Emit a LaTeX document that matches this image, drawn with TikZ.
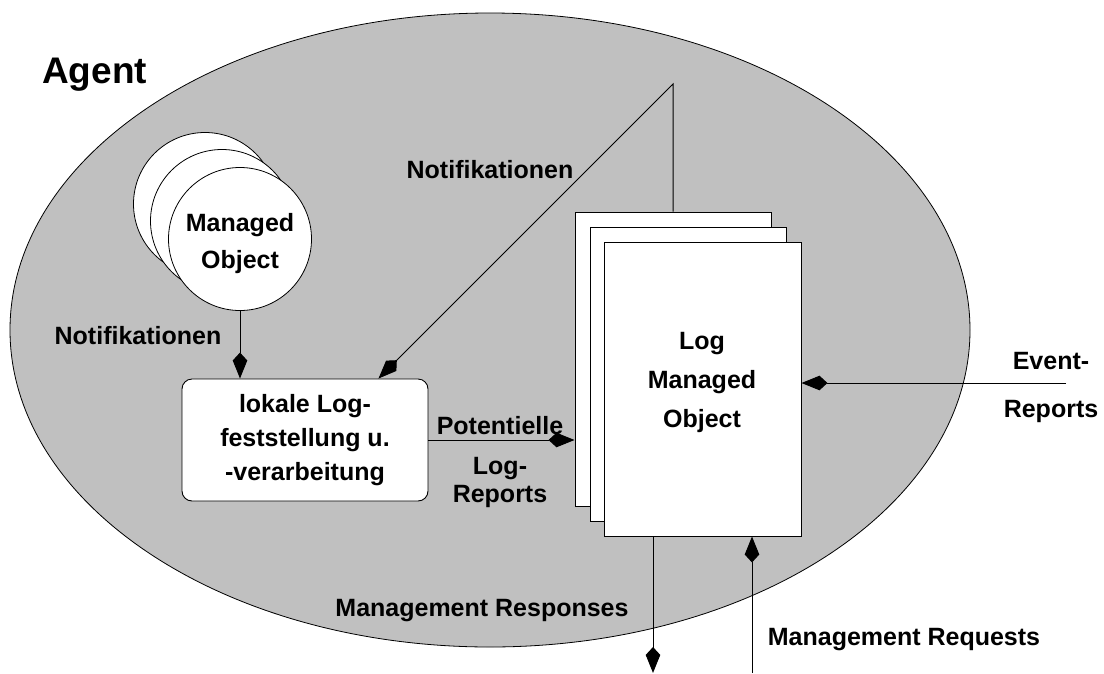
\documentclass[tikz,border=0pt]{standalone}
\usepackage{fontspec}
\setmainfont{Liberation Sans}
\usetikzlibrary{arrows.meta,shapes.geometric,calc}
\definecolor{agentgray}{RGB}{192,192,192}

\begin{document}
\begin{tikzpicture}[x=1pt,y=-1pt,
  every node/.style={font=\bfseries\fontsize{25}{34}\selectfont, inner sep=0pt},
  lbl/.style={anchor=base},
  page/.style={draw=black, fill=white, line width=0.9pt,
    minimum width=196pt, minimum height=294pt},
  mocircle/.style={circle, draw=black, fill=white, line width=0.8pt,
    minimum size=143pt},
  flow/.style={draw=black, line width=1pt,
    -{Stealth[length=18pt,width=14pt,inset=-8pt]}},
]
\useasboundingbox (0,0) rectangle (1104,673);

% agent area
\node[ellipse, draw=black, fill=agentgray, line width=0.8pt,
      minimum width=960pt, minimum height=634pt] (agent) at (490,330) {};
\node[anchor=base west, font=\bfseries\fontsize{37}{40}\selectfont]
      (agentlabel) at (42,83) {Agent};

% stacked managed objects
\node[mocircle] (mo3) at (205,204) {};
\node[mocircle] (mo2) at (222,221) {};
\node[mocircle] (mo) at (240,239) {};
\node[align=center, font=\bfseries\fontsize{25}{37}\selectfont]
      (motext) at (240,244) {Managed\\Object};

% local log processing
\node[draw=black, fill=white, rounded corners=10pt, line width=0.9pt,
      minimum width=246pt, minimum height=122pt, align=center]
      (proc) at (305,440) {lokale Log-\\feststellung u.\\-verarbeitung};

% stacked log managed objects
\node[page] (p3) at (673,359) {};
\node[page] (p2) at (688,374) {};
\node[page, minimum width=197pt] (p1) at (702.5,389) {};
\node[align=center, font=\bfseries\fontsize{25}{39}\selectfont]
      (lmotext) at (702,382.5) {Log\\Managed\\Object};

% labels
\node[lbl] (notiftop) at (490,178) {Notifikationen};
\node[lbl] (notifleft) at (138,344) {Notifikationen};
\node[lbl] (potlbl) at (500,434) {Potentielle};
\node[lbl] (loglbl) at (500,474) {Log-};
\node[lbl] (replbl) at (500,502) {Reports};
\node[lbl] (evlbl) at (1051,369) {Event-};
\node[lbl] (evrep) at (1051,417) {Reports};
\node[lbl] (resplbl) at (482,616) {Management Responses};
\node[lbl] (reqlbl) at (904,645) {Management Requests};

% connector end points
\coordinate (apex) at (673,84);
\coordinate (evsrc) at (1066,383);
\coordinate (respend) at (653,673);
\coordinate (reqsrc) at (752,673);

% connectors
\draw[flow] (mo.south) -- (mo.south |- proc.north);
\draw[flow] (p3.north) -- (apex) -- ($(proc.north east)+(-50,0)$);
\draw[flow] (proc.east) -- (proc.east -| p3.west);
\draw[flow] (evsrc) -- (evsrc -| p1.east);
\draw[flow] (p1.south -| respend) -- (respend);
\draw[flow] (reqsrc) -- (reqsrc |- p1.south);
\end{tikzpicture}
\end{document}
